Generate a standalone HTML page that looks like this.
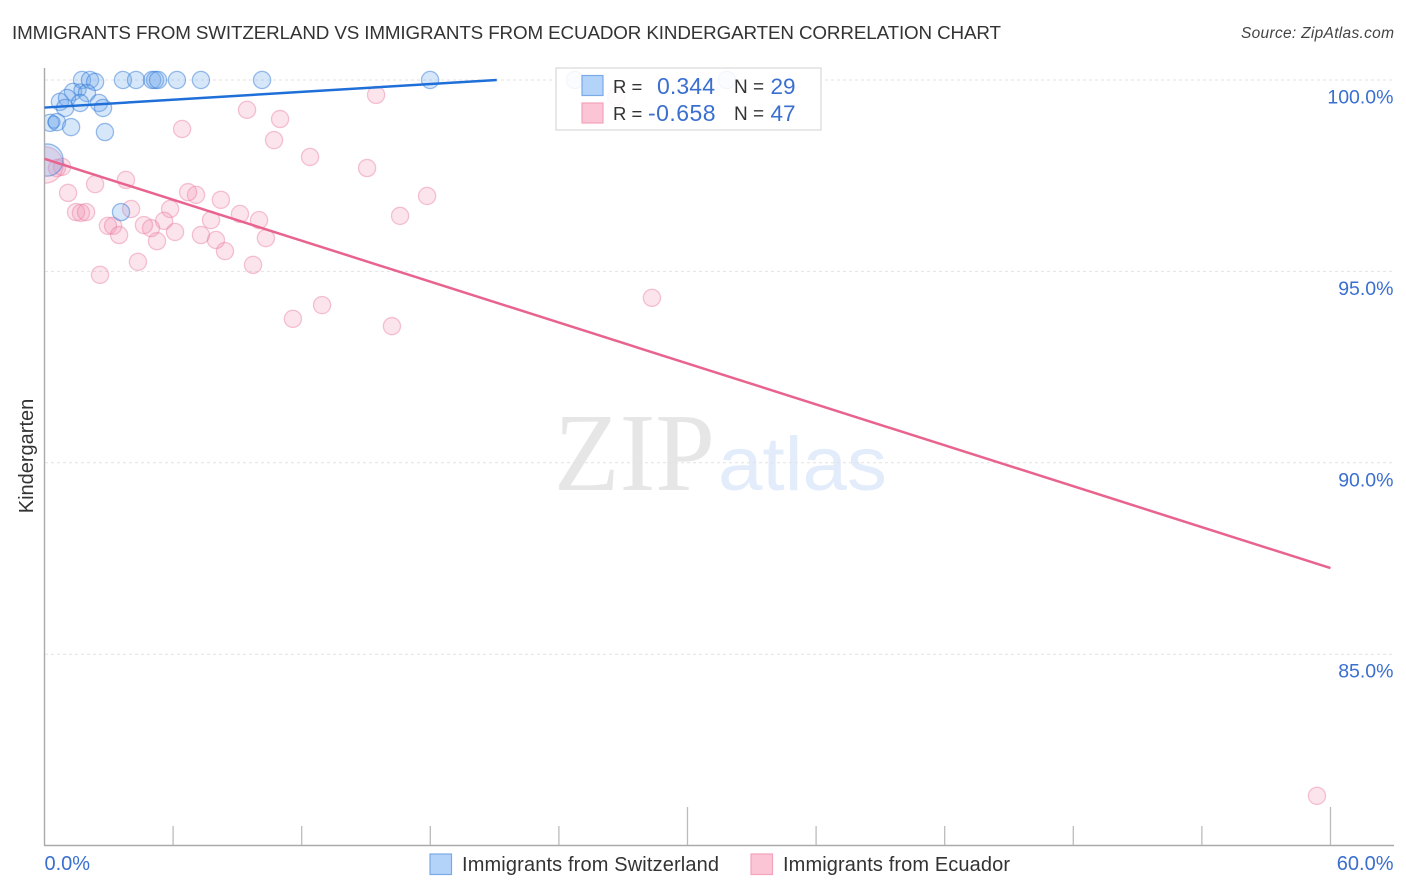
<!DOCTYPE html>
<html lang="en">
<head>
<meta charset="utf-8">
<title>Immigrants from Switzerland vs Immigrants from Ecuador Kindergarten Correlation Chart</title>
<style>
html,body{margin:0;padding:0;background:#fff;width:1406px;height:892px;overflow:hidden}
svg{display:block;font-family:"Liberation Sans",sans-serif}
</style>
</head>
<body>
<svg id="chart" width="1406" height="892" viewBox="0 0 1406 892" xmlns="http://www.w3.org/2000/svg">
<defs><clipPath id="plot-clip"><rect x="45" y="40" width="1360" height="806"/></clipPath></defs>
<text x="12" y="39" font-size="18.8" fill="#333" textLength="989" lengthAdjust="spacing">IMMIGRANTS FROM SWITZERLAND VS IMMIGRANTS FROM ECUADOR KINDERGARTEN CORRELATION CHART</text>
<text x="1394" y="38" font-size="15.5" font-style="italic" fill="#444" text-anchor="end" textLength="153" lengthAdjust="spacing">Source: ZipAtlas.com</text>
<g id="watermark">
<text x="554" y="490" font-family="Liberation Serif" font-size="111" fill="#e6e6e6" textLength="161" lengthAdjust="spacingAndGlyphs">ZIP</text>
<text x="718" y="490" font-size="76" fill="#e2ecfb" textLength="169" lengthAdjust="spacingAndGlyphs">atlas</text>
</g>
<g id="grid"></g>
<g id="axes"></g>
<g id="points" clip-path="url(#plot-clip)"></g>
<g id="trends"></g>
<text transform="translate(33,456) rotate(-90)" font-size="20" fill="#333" text-anchor="middle">Kindergarten</text>
<g id="tick-labels"></g>
<g>
<rect x="556" y="68" width="265" height="62" fill="#fff" fill-opacity="0.88" stroke="#d8d8d8" stroke-width="1.2"/>
<rect x="582" y="75.500" width="21" height="20" fill="#b3d3f8" stroke="#7aaae8" stroke-width="1.2"/>
<rect x="582" y="103" width="21" height="20" fill="#fcc5d6" stroke="#f3a3bc" stroke-width="1.2"/>
<text x="613" y="93" font-size="18.500" fill="#333">R =</text>
<text x="657" y="94" font-size="23" fill="#3a6fd0" textLength="58" lengthAdjust="spacing">0.344</text>
<text x="734" y="93" font-size="19" fill="#333">N =</text>
<text x="795.500" y="94" font-size="22.500" fill="#3a6fd0" text-anchor="end">29</text>
<text x="613" y="120" font-size="18.500" fill="#333">R =</text>
<text x="648" y="121" font-size="23" fill="#3a6fd0" textLength="67.500" lengthAdjust="spacing">-0.658</text>
<text x="734" y="120" font-size="19" fill="#333">N =</text>
<text x="795.500" y="121" font-size="22.500" fill="#3a6fd0" text-anchor="end">47</text>
</g>
<g>
<rect x="430" y="854" width="21.500" height="20.500" fill="#b3d3f8" stroke="#7aaae8" stroke-width="1.2"/>
<text x="462" y="871" font-size="20" fill="#333" textLength="257" lengthAdjust="spacing">Immigrants from Switzerland</text>
<rect x="751" y="854" width="21.500" height="20.500" fill="#fcc5d6" stroke="#f3a3bc" stroke-width="1.2"/>
<text x="783" y="871" font-size="20" fill="#333" textLength="227" lengthAdjust="spacing">Immigrants from Ecuador</text>
</g>
</svg>
<script>
// Chart data (percent units)
const yTickValues = [100, 95, 90, 85];
const yTickLabels = ["100.0%", "95.0%", "90.0%", "85.0%"];
const xTickValues = [0, 6, 12, 18, 24, 30, 36, 42, 48, 54, 60];
const xMajorTicks = [30, 60];
const xEndLabels = ["0.0%", "60.0%"];
const xEndValues = [0, 60];

const blueX = [1.75,2.12,2.36,3.66,4.27,5.02,5.16,5.30,6.18,7.30,10.15,17.99,24.75,31.84,1.33,1.66,1.98,0.72,1.05,0.96,1.66,2.54,2.73,0.26,0.58,0.44,1.24,2.82,3.57,0.12];
const blueY = [100,100,99.95,100,100,100,100,100,100,100,100,100,100,100,99.69,99.74,99.66,99.43,99.53,99.27,99.40,99.40,99.27,98.88,98.90,98.90,98.77,98.64,96.55,97.91];
const blueWeight = [1,1,1,1,1,1,1,1,1,1,1,1,1,1,1,0.5,1,1,1,1,1,1,1,1,1,0.5,1,1,1,3.5];

const pinkX = [9.45,10.99,10.71,6.42,12.39,15.05,15.47,17.85,16.59,28.34,59.37,16.21,12.95,11.59,9.73,8.42,10.33,10.01,9.12,8.00,7.30,7.77,8.23,7.07,6.70,5.86,5.58,6.09,5.25,4.97,4.64,4.36,4.04,3.80,2.36,1.10,1.47,1.70,1.94,2.59,2.96,3.20,3.48,0.82,0.58,0.02,26.67];
const pinkY = [99.22,98.98,98.43,98.72,97.99,97.70,99.61,96.97,96.45,94.31,81.30,93.57,94.12,93.76,95.17,95.53,95.87,96.34,96.50,95.82,95.95,96.34,96.87,97.00,97.07,96.63,96.32,96.03,95.79,96.13,96.21,95.25,96.63,97.39,97.28,97.05,96.55,96.53,96.55,94.91,96.19,96.19,95.95,97.73,97.70,97.78,99.56];
const pinkWeight = [1,1,1,1,1,1,1,1,1,1,1,1,1,1,1,1,1,1,1,1,1,1,1,1,1,1,1,1,1,1,1,1,1,1,1,1,1,1,1,1,1,1,1,1,1,4.5,1];

const blueTrendX = [0, 21.1];
const blueTrendY = [99.28, 100];
const pinkTrendX = [0, 60];
const pinkTrendY = [97.94, 87.25];

// Axis functions
function xScale(v) { return 44.5 + v * 21.433; }
function yScale(v) { return 80 + (100 - v) * 38.28; }
function rScale(w) { return 8.6 * Math.sqrt(w); }

const NS = "http://www.w3.org/2000/svg";
function make(parentId, tag, attrs) {
  const el = document.createElementNS(NS, tag);
  for (const k in attrs) el.setAttribute(k, attrs[k]);
  document.getElementById(parentId).appendChild(el);
  return el;
}

// Grid lines and right-hand labels
yTickValues.forEach(function (v, i) {
  const line = make("grid", "line", {x1: 45, x2: 1394, y1: yScale(v), y2: yScale(v), stroke: "#e2e2e2", "stroke-width": 1, "stroke-dasharray": "3 3"});
  
  
  const label = make("tick-labels", "text", {x: 1393.5, y: yScale(v) + 23.5, "font-size": 19.5, fill: "#3a6fd0", "text-anchor": "end"});
  
  
  label.textContent = yTickLabels[i];
});

// Axes
const yAxis = make("axes", "line", {x1: 44.5, x2: 44.5, y1: 68, y2: 845.5, stroke: "#aaa", "stroke-width": 1.4});


const xAxis = make("axes", "line", {x1: 44, x2: 1394, y1: 845.5, y2: 845.5, stroke: "#aaa", "stroke-width": 1.4});


xTickValues.forEach(function (v) {
  if (v === 0) return;
  const top = xMajorTicks.indexOf(v) >= 0 ? 807 : 826;
  const tick = make("axes", "line", {x1: xScale(v), x2: xScale(v), y1: top, y2: 845, stroke: "#bbb", "stroke-width": 1.3});
  
  
});
xEndValues.forEach(function (v, i) {
  const label = make("tick-labels", "text", {x: i === 0 ? xScale(v) : 1393.5, y: 870, "font-size": 20, fill: "#3a6fd0", "text-anchor": i === 0 ? "start" : "end"});
  
  
  label.textContent = xEndLabels[i];
});

// Points
pinkX.forEach(function (v, i) {
  const c = make("points", "circle", {cx: xScale(v), cy: yScale(pinkY[i]), r: rScale(pinkWeight[i]), fill: "#f48fb1", "fill-opacity": 0.24, stroke: "#e8769c", "stroke-opacity": 0.42, "stroke-width": 1.3});
  
  
});
blueX.forEach(function (v, i) {
  const c = make("points", "circle", {cx: xScale(v), cy: yScale(blueY[i]), r: rScale(blueWeight[i]), fill: "#6ea8ee", "fill-opacity": 0.28, stroke: "#2f77d6", "stroke-opacity": 0.48, "stroke-width": 1.3});
  
  
});

// Trend lines
const blueTrend = make("trends", "line", {x1: xScale(blueTrendX[0]), y1: yScale(blueTrendY[0]), x2: xScale(blueTrendX[1]), y2: yScale(blueTrendY[1]), stroke: "#1f6fd8", "stroke-width": 2.5});


const pinkTrend = make("trends", "line", {x1: xScale(pinkTrendX[0]), y1: yScale(pinkTrendY[0]), x2: xScale(pinkTrendX[1]), y2: yScale(pinkTrendY[1]), stroke: "#e8648f", "stroke-width": 2.5});


</script>
</body>
</html>
